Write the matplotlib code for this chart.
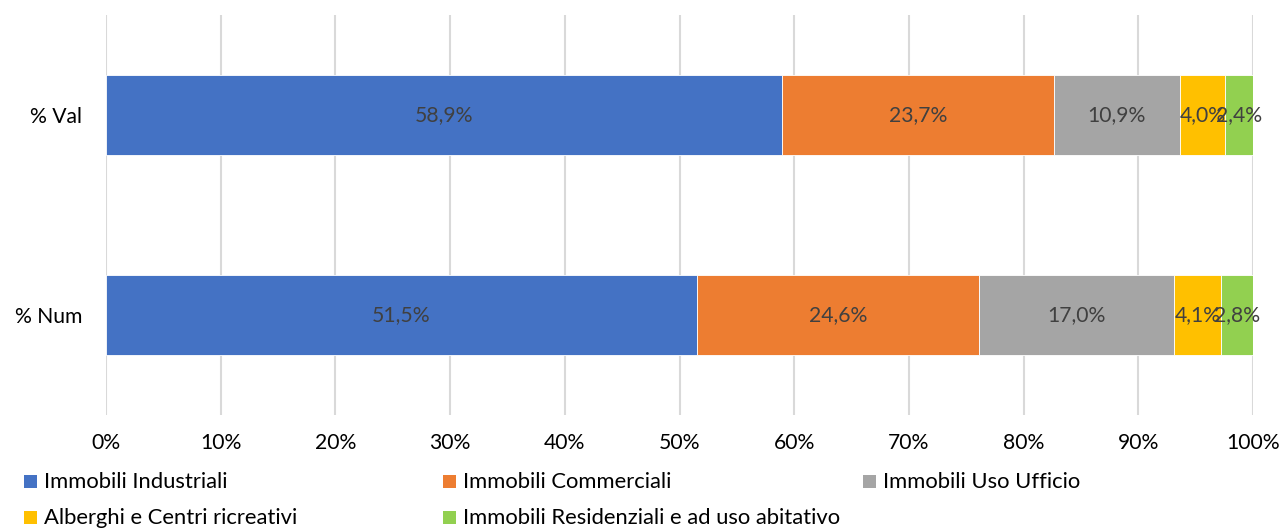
import matplotlib
matplotlib.use("Agg")
import matplotlib.pyplot as plt
from matplotlib.patches import Rectangle
import numpy as np

categories = ["% Num", "% Val"]
series_names = ["Immobili Industriali", "Immobili Commerciali", "Immobili Uso Ufficio",
                "Alberghi e Centri ricreativi", "Immobili Residenziali e ad uso abitativo"]
num_values = [51.5, 24.6, 17.0, 4.1, 2.8]
val_values = [58.9, 23.7, 10.9, 4.0, 2.4]
colors = ["#4472C4", "#ED7D31", "#A5A5A5", "#FFC000", "#92D050"]
xtick_labels = [f"{i}%" for i in range(0, 101, 10)]

plt.rcParams['font.family'] = ['Lato', 'DejaVu Sans']
FS = 15.2
W, H = 1281, 528

fig = plt.figure(figsize=(W/100, H/100), dpi=100)
ax = fig.add_axes([106/W, 1-415/H, (1253-106)/W, 400/H])

data = np.array([num_values, val_values])
shares = data / data.sum(axis=1, keepdims=True)
y = np.arange(len(categories))
left = np.zeros(len(categories))
for i, name in enumerate(series_names):
    ax.barh(y, shares[:, i], left=left, height=0.4, color=colors[i],
            edgecolor="white", linewidth=0.6, label=name, zorder=3)
    for j in range(len(categories)):
        ax.text(left[j] + shares[j, i] / 2, y[j],
                f"{data[j, i]:.1f}%".replace(".", ","),
                ha="center", va="center", fontsize=FS, color="#404040", zorder=4)
    left += shares[:, i]

ax.set_xlim(0, 1)
ax.set_ylim(-0.5, 1.5)
ax.set_xticks(np.linspace(0, 1, 11))
ax.set_xticklabels(xtick_labels)
ax.set_yticks(y)
ax.set_yticklabels(categories)
ax.tick_params(axis="both", length=0, labelsize=FS, colors="black")
ax.tick_params(axis="x", pad=13)
ax.tick_params(axis="y", pad=17)
ax.grid(axis="x", color="#D9D9D9", linewidth=1.5, zorder=0)
for s in ax.spines.values():
    s.set_visible(False)

# legend laid out row by row, three columns
col_x = [24, 443, 863]
row_y = [482, 518]
for i, name in enumerate(series_names):
    r, c = divmod(i, 3)
    x0, yc = col_x[c], row_y[r]
    fig.patches.append(Rectangle((x0/W, 1-(yc+6)/H), 13/W, 13/H, transform=fig.transFigure,
                                 facecolor=colors[i], edgecolor="none"))
    fig.text((x0+20)/W, 1-yc/H, name, fontsize=15.8, va="center", ha="left", color="black")

fig.savefig("out.png", dpi=100)
